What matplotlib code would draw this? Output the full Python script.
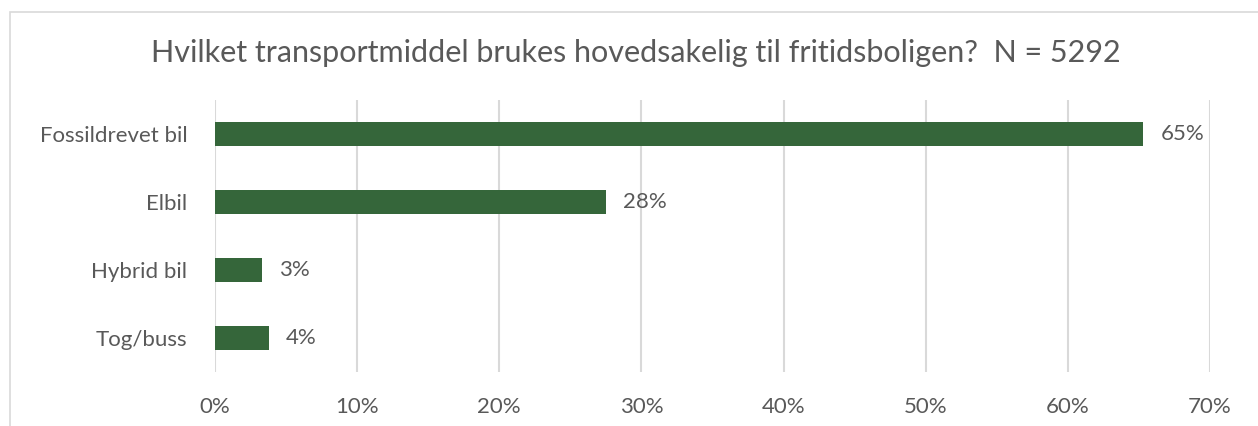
import matplotlib.pyplot as plt
from matplotlib.patches import Rectangle

# data
kategorier = ["Fossildrevet bil", "Elbil", "Hybrid bil", "Tog/buss"]
andeler = [65.3, 27.5, 3.3, 3.8]
etiketter = ["65%", "28%", "3%", "4%"]
tittel = "Hvilket transportmiddel brukes hovedsakelig til fritidsboligen?  N = 5292"

plt.rcParams['font.family'] = ['Lato', 'DejaVu Sans']
tekstfarge = '#595959'

fig = plt.figure(figsize=(12.58, 4.26), dpi=100)
# ramme rundt diagrammet
fig.patches.append(Rectangle((10 / 1258, -0.1), 1.2, 1.1 - 12 / 426, transform=fig.transFigure,
                             fill=False, edgecolor='#d9d9d9', linewidth=1.2))

ax = fig.add_axes([215 / 1258, 1 - 372 / 426, (1210 - 215) / 1258, 272 / 426])

y = range(len(kategorier))
ax.barh(y, andeler, height=0.35, color='#35663a', zorder=3)
for i, (v, t) in enumerate(zip(andeler, etiketter)):
    ax.text(v + 1.2, i, t, va='center', ha='left', fontsize=16, color=tekstfarge)

ax.set_ylim(3.5, -0.5)
ax.set_xlim(0, 70)
ax.set_yticks(list(y))
ax.set_yticklabels(kategorier, fontsize=16, color=tekstfarge)
ax.set_xticks(range(0, 71, 10))
ax.set_xticklabels([f"{t}%" for t in range(0, 71, 10)], fontsize=16, color=tekstfarge)
ax.tick_params(length=0)
ax.tick_params(axis='y', pad=20)
ax.tick_params(axis='x', pad=18)
ax.grid(axis='x', color='#d9d9d9', linewidth=1.5, zorder=0)
for s in ax.spines.values():
    s.set_visible(False)

fig.text(636 / 1258, 1 - 53 / 426, tittel, ha='center', va='center', fontsize=22, color=tekstfarge)

fig.savefig('out.png', dpi=100)
